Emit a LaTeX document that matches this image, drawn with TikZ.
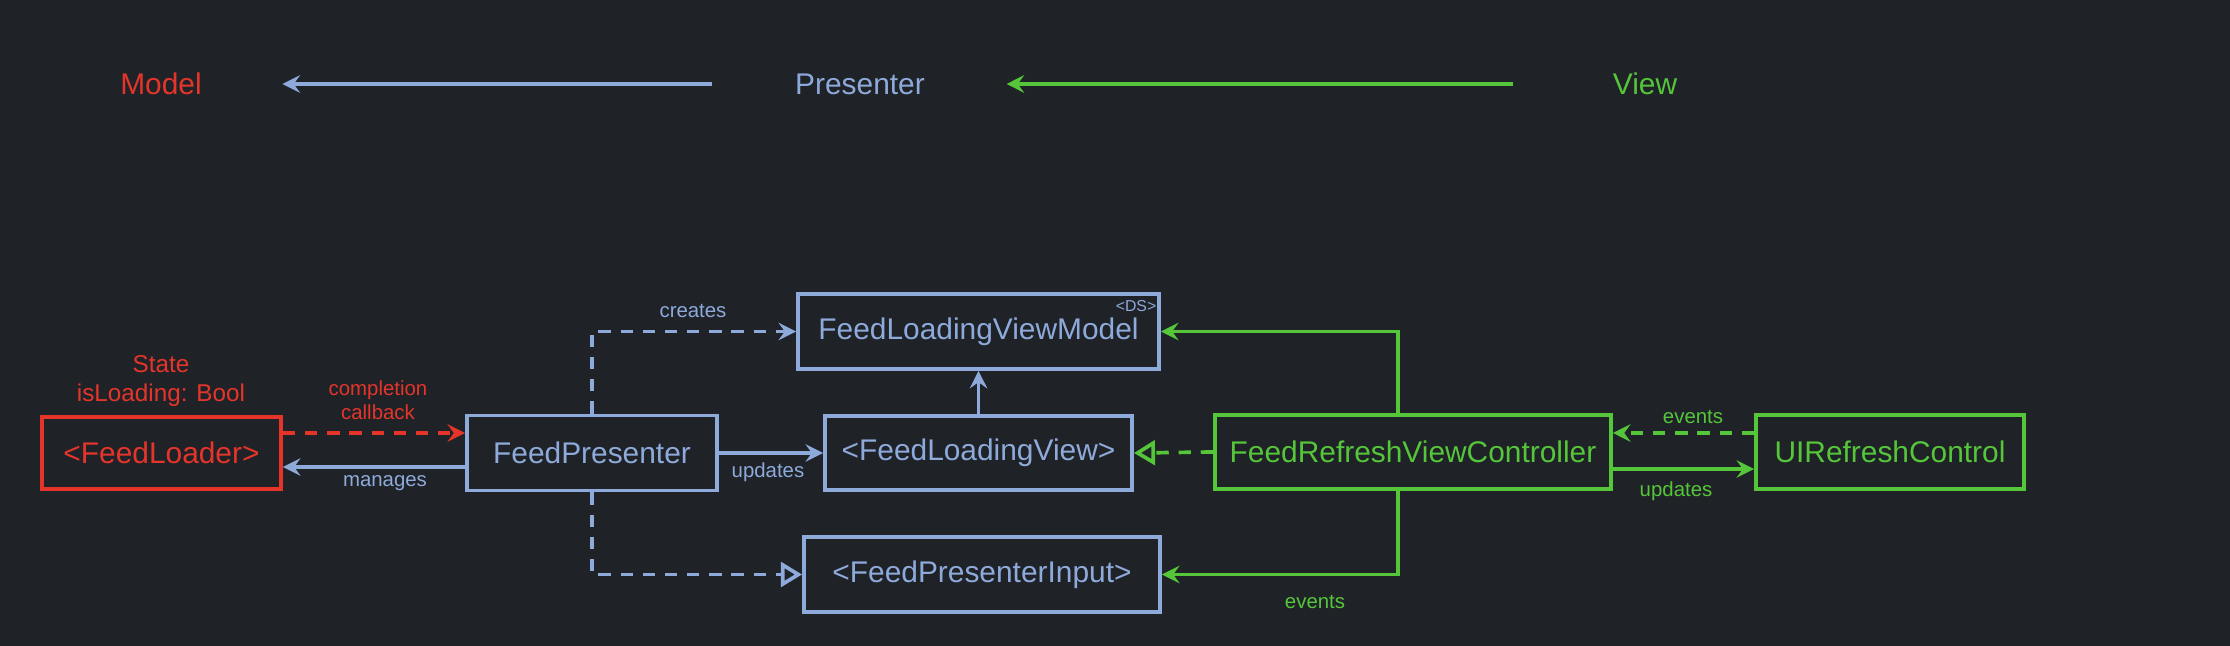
\documentclass[tikz,border=0pt]{standalone}
\usepackage{fontspec}
\setmainfont{Liberation Sans}
\usetikzlibrary{arrows.meta}
\definecolor{bgdark}{HTML}{1F2227}
\definecolor{mred}{HTML}{E5352B}
\definecolor{pblue}{HTML}{8EAADB}
\definecolor{vgreen}{HTML}{55C53A}

\begin{document}
\begin{tikzpicture}[x=0.01cm, y=0.01cm,
    box/.style={draw, line width=1.05pt, inner sep=0pt, minimum height=0.74cm,
        font=\fontsize{8.5}{10}\selectfont},
    title/.style={inner sep=0pt, font=\fontsize{8.5}{10}\selectfont},
    lbl/.style={inner sep=0pt, font=\fontsize{5.8}{6.8}\selectfont},
    conn/.style={line width=1.05pt, -{Stealth[length=5pt, width=5pt, inset=1.8pt]}},
    realize/.style={line width=1.05pt, -{Triangle[open, length=6pt, width=7pt]}},
    dashline/.style={dash pattern=on 3.5pt off 2.8pt}]
    \fill[bgdark] (0,0) rectangle (2230,646);

    \node[title, text=mred] (modeltitle) at (161,562) {Model};
    \node[title, text=pblue] (presentertitle) at (860,562) {Presenter};
    \node[title, text=vgreen] (viewtitle) at (1645,562) {View};
    \draw[conn, pblue, shorten <=0.82cm, shorten >=0.8cm]
        (presentertitle.west) -- (modeltitle.east);
    \draw[conn, vgreen, shorten <=0.99cm, shorten >=0.81cm]
        (viewtitle.west) -- (presentertitle.east);

    \node[box, mred, minimum width=2.39cm, minimum height=0.72cm] (loader) at (161.5,193) {<FeedLoader>};
    \node[box, pblue, minimum width=2.5cm, minimum height=0.75cm] (presenter) at (592,193) {FeedPresenter};
    \node[box, pblue, minimum width=3.07cm] (loadingview) at (978.5,193) {<FeedLoadingView>};
    \node[box, pblue, minimum width=3.61cm, minimum height=0.75cm] (viewmodel) at (978.5,314.5) {FeedLoadingViewModel};
    \node[lbl, pblue, font=\fontsize{4.5}{5}\selectfont] (dstag) at (1136,340) {<DS>};
    \node[box, pblue, minimum width=3.56cm, minimum height=0.75cm] (presenterinput) at (982,71.5) {<FeedPresenterInput>};
    \node[box, vgreen, minimum width=3.96cm] (controller) at (1413,194) {FeedRefreshViewController};
    \node[box, vgreen, minimum width=2.68cm] (refresh) at (1890,194) {UIRefreshControl};

    \node[lbl, mred, align=center, font=\fontsize{6.9}{8}\selectfont] (loaderstate) at (161,265) {State\\isLoading: Bool};

    \draw[conn, mred, dashline] ([yshift=0.2cm]loader.east) -- ([yshift=0.2cm]presenter.west);
    \node[lbl, mred, align=center] (callbacklbl) at (378,246) {completion\\callback};
    \draw[conn, pblue] ([yshift=-0.14cm]presenter.west) -- ([yshift=-0.14cm]loader.east);
    \node[lbl, pblue] (manageslbl) at (385,163) {manages};
    \draw[conn, pblue] (presenter) -- (loadingview);
    \node[lbl, pblue] (updateslbl) at (768,174) {updates};
    \draw[conn, pblue] (loadingview) -- (viewmodel);
    \draw[conn, pblue, dashline] (presenter.north) |- (viewmodel.west);
    \node[lbl, pblue] (createslbl) at (693,335) {creates};
    \draw[realize, pblue, dashline] (presenter.south) |- (presenterinput.west);

    \draw[realize, vgreen, dashline] (controller.west) -- (loadingview.east);
    \draw[conn, vgreen, dashline] ([yshift=0.19cm]refresh.west) -- ([yshift=0.19cm]controller.east);
    \node[lbl, vgreen] (eventslbl) at (1693,229) {events};
    \draw[conn, vgreen] ([yshift=-0.17cm]controller.east) -- ([yshift=-0.17cm]refresh.west);
    \node[lbl, vgreen] (refreshupdateslbl) at (1676,155) {updates};
    \draw[conn, vgreen] ([xshift=-0.15cm]controller.north) |- (viewmodel.east);
    \draw[conn, vgreen] ([xshift=-0.15cm]controller.south) |- (presenterinput.east);
    \node[lbl, vgreen] (inputeventslbl) at (1315,44) {events};
\end{tikzpicture}
\end{document}
